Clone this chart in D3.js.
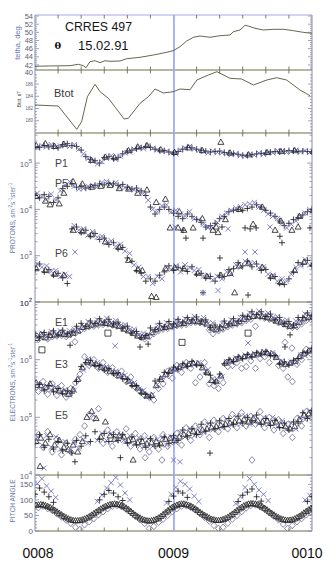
<!DOCTYPE html>
<html><head><meta charset="utf-8">
<script src="https://cdn.jsdelivr.net/npm/d3@7/dist/d3.min.js"></script>
<style>
html,body{margin:0;padding:0;background:#fff;}
svg{display:block;font-family:"Liberation Sans",Arial,sans-serif;}
</style></head><body>
<svg id="chart" width="335" height="572"></svg>
<script>
// ================= DATA =================
// time in minutes after 00:08 UT label
const timeLabels = ["0008", "0009", "0010"];
const timeLabelMinutes = [0, 60, 120];
const cursorMinute = 60.2;
const gridStep = 2; // symbol samples every 2 minutes, 0..120

// theta (deg)
const thetaT = [0,6.5,15.2,18.8,20.9,22.1,23.8,26,28.2,30.3,32.5,36.8,39.7,45.5,51.3,57.1,59.9,62.8,65.7,68.6,71.5,75.8,80.1,84.5,85.9,88.8,91,92.4,95.3,98.9,103.2,107.6,111.9,116.2,119.9];
const thetaV = [41.67,41.75,41.82,42.16,41.82,41.33,42.8,43.04,42.55,43.04,42.89,42.97,43.53,43.87,44.44,45.1,45.5,46.47,47.87,48.78,49.1,48.78,49.17,49.34,50.15,50.57,51.72,51.55,50.99,50.57,50.74,50.74,50.4,50.0,49.76];
const thetaTicks = [42, 44, 46, 48, 50, 52, 54];

// Btot (nT)
const btotT = [0,10.1,18.1,20.2,22.7,26,28.2,31.8,38.6,40.4,45.5,49.1,52,55.6,59.9,62.8,67.2,70.1,75.1,78.8,84.5,89.5,94.6,100.4,104.7,109,114.8,119.1];
const btotV = [182.58,182.41,178.6,179.85,183.93,185.96,184.75,183.67,180.29,180.4,182.85,183.93,185.19,184.54,184.75,185.19,185.08,186.66,187.48,188.02,186.94,186.83,185.85,186.66,187.04,186.66,185.03,184.1];
const btotTicks = [180, 182, 184, 186];

// Protons, log10 flux (cm-2 s-1 sr-1), one value per 2-minute sample
const p1Plus = [5.36,5.34,5.38,5.35,5.37,5.33,5.40,5.42,5.38,5.36,5.28,5.14,5.08,5.05,5.00,5.12,5.14,5.10,5.12,5.20,5.26,5.28,5.31,5.33,5.36,5.34,5.30,5.28,5.27,5.24,5.22,5.25,5.30,5.34,5.33,5.30,5.28,5.26,5.24,5.25,5.26,5.23,5.22,5.21,5.19,5.17,5.17,5.18,5.20,5.21,5.22,5.24,5.25,5.24,5.26,5.27,5.26,5.25,5.26,5.25,5.24];
const p1Cross = [5.33,5.38,5.35,5.40,5.34,5.37,5.38,5.36,5.40,5.30,5.20,5.10,5.04,4.98,5.03,5.10,5.16,5.08,5.15,5.22,5.24,5.30,5.34,5.31,5.38,5.32,5.29,5.25,5.26,5.22,5.20,5.28,5.33,5.36,5.30,5.27,5.25,5.22,5.26,5.23,5.22,5.20,5.18,5.20,5.16,5.15,5.19,5.17,5.22,5.19,5.23,5.22,5.27,5.26,5.23,5.25,5.28,5.24,5.27,5.23,5.26];
const p1Tri = [5.38,null,5.42,null,5.36,null,5.41,null,null,null,null,null,5.06,null,null,5.13,null,5.12,null,null,5.27,null,5.35,null,5.38,null,null,5.29,null,null,5.23,null,null,5.33,null,null,5.27,null,null,null,5.45,null,5.22,null,null,null,5.18,null,null,null,5.23,null,null,5.25,null,null,5.27,null,null,null,5.25];

const p5Plus = [4.30,4.25,4.32,4.28,4.15,4.25,4.45,4.50,4.55,4.48,4.50,4.46,4.48,4.52,4.55,4.53,4.56,4.55,4.52,4.54,4.48,4.44,4.46,4.40,4.30,4.05,3.90,4.00,4.05,4.00,3.92,3.85,3.80,3.90,3.85,3.78,3.72,3.62,3.65,3.70,3.80,3.85,3.95,3.98,4.00,3.98,4.02,4.05,4.10,4.05,3.98,3.92,3.85,3.75,3.65,3.70,3.78,3.82,3.88,3.95,4.00];
const p5Cross = [4.35,4.28,4.22,4.33,4.20,4.40,4.52,4.60,4.50,4.44,4.45,4.50,4.52,4.49,4.58,4.60,4.55,4.58,4.48,4.47,4.45,4.42,4.40,4.35,4.20,4.00,3.95,4.08,4.10,3.95,3.98,3.90,3.85,3.95,3.80,3.78,3.68,3.62,3.60,3.72,3.85,3.92,3.98,4.03,4.06,4.10,4.12,4.15,4.05,3.98,3.90,3.85,3.80,3.70,3.60,3.68,3.75,3.85,3.92,4.00,4.02];
const p5Tri = [4.28,null,4.18,4.10,null,4.12,4.35,null,4.60,null,4.55,null,4.48,null,4.50,null,4.52,null,4.45,null,4.44,null,4.35,null,4.42,null,4.15,null,4.22,3.60,null,3.95,3.55,null,3.60,null,3.80,null,null,3.62,null,3.78,null,null,4.00,null,null,3.68,null,4.05,null,null,null,3.75,null,null,null,3.85,null,null,3.98];
// scattered extra proton samples: [minute, log10 flux, symbol]
const protonExtra = [[60.7,3.62,"cross"],[62,3.6,"tri"],[64.1,3.55,"plus"],[65.4,3.38,"plus"],[72.8,3.38,"plus"],[75,3.6,"cross"],[77.1,3.55,"tri"],[79.3,3.5,"tri"],[81,3.62,"plus"],[83.6,3.58,"cross"],[91,3.6,"plus"],[93.2,3.58,"plus"],[95.8,3.6,"plus"],[101.8,3.62,"cross"],[104,3.55,"tri"],[106.1,3.42,"plus"],[107,3.28,"plus"],[111.3,3.55,"tri"],[114,3.62,"tri"],[119.1,3.6,"plus"],
  [72.8,2.2,"plus"],[72.8,2.2,"cross"],[79.3,2.25,"cross"],[92.3,2.15,"plus"],[91,3.08,"cross"],[95.3,3.08,"cross"],[80.1,2.95,"plus"],[17.3,3.08,"cross"]];

const p6Plus = [2.70,2.82,2.65,2.70,2.58,2.62,2.52,2.40,3.58,3.62,3.50,3.55,3.42,3.48,3.35,3.38,3.24,3.28,3.15,3.18,2.95,2.88,2.68,2.62,2.45,2.50,2.45,2.58,2.65,2.78,2.68,2.75,2.72,2.66,2.76,2.60,2.62,2.52,2.55,2.45,2.58,2.55,2.70,2.72,2.85,2.78,2.88,2.76,2.82,2.68,2.70,2.52,2.55,2.40,2.38,2.50,2.65,2.85,2.82,2.90,2.78];
const p6Cross = [2.82,2.75,2.78,2.66,2.68,2.55,2.60,2.55,3.65,3.55,3.58,3.45,3.52,3.40,3.42,3.28,3.32,3.20,3.25,3.10,3.05,2.80,2.75,2.55,2.55,2.40,2.55,2.50,2.75,2.70,2.78,2.65,2.80,2.74,2.68,2.70,2.56,2.58,2.48,2.55,2.50,2.65,2.60,2.80,2.75,2.88,2.82,2.85,2.74,2.76,2.60,2.58,2.45,2.50,2.45,2.60,2.75,2.78,2.92,2.80,2.85];
const p6Tri = [2.72,null,2.68,null,2.60,null,2.58,null,3.55,null,3.52,null,3.45,null,null,3.30,null,null,3.18,null,2.90,null,2.70,2.68,null,2.12,2.10,null,2.72,null,2.74,null,2.72,null,null,2.62,null,2.55,null,null,2.58,null,2.62,2.20,2.78,null,2.84,null,null,2.75,null,2.55,null,2.42,null,null,2.68,null,2.86,null,2.82];

// Electrons, log10 flux
const e1Plus = [6.45,6.38,6.47,6.44,6.50,6.43,6.51,6.45,6.48,6.58,6.63,6.58,6.67,6.63,6.71,6.65,6.70,6.62,6.65,6.55,6.58,6.46,6.49,6.38,6.42,6.55,6.52,6.63,6.57,6.66,6.62,6.70,6.65,6.73,6.69,6.74,6.67,6.69,6.56,6.60,6.57,6.67,6.62,6.71,6.67,6.77,6.75,6.83,6.78,6.83,6.75,6.79,6.69,6.73,6.63,6.66,6.60,6.73,6.73,6.81,6.77];
const e1Cross = [6.40,6.46,6.40,6.49,6.44,6.50,6.45,6.50,6.53,6.52,6.57,6.66,6.61,6.69,6.65,6.72,6.64,6.68,6.59,6.61,6.52,6.53,6.43,6.46,6.40,6.49,6.59,6.57,6.64,6.60,6.68,6.64,6.71,6.67,6.75,6.68,6.73,6.63,6.64,6.54,6.63,6.61,6.69,6.65,6.73,6.71,6.81,6.77,6.84,6.77,6.81,6.73,6.75,6.67,6.69,6.60,6.67,6.67,6.79,6.75,6.83];
const e1Tri = [6.37,6.44,6.38,6.42,6.43,6.45,6.44,6.43,6.46,6.50,6.56,6.58,6.60,6.62,6.64,6.63,6.62,6.60,6.58,6.53,6.50,6.46,6.41,6.39,6.41,6.47,6.52,6.55,6.56,6.58,6.60,6.62,6.63,6.66,6.67,6.66,6.65,6.62,6.55,6.52,6.55,6.59,6.62,6.63,6.66,6.70,6.73,6.75,6.76,6.75,6.73,6.71,6.67,6.65,6.61,6.58,6.59,6.65,6.71,6.73,6.75];
const e1Dia = [6.35,6.40,6.36,6.40,6.41,6.42,6.40,6.44,6.46,6.50,6.54,6.57,6.58,6.60,6.61,6.62,6.60,6.58,6.56,6.52,6.48,6.44,6.40,6.36,6.40,6.45,6.50,6.53,6.54,6.57,6.59,6.60,6.61,6.64,6.65,6.64,6.62,6.52,6.52,6.50,6.53,6.57,6.60,6.62,6.64,6.68,6.70,6.58,6.74,6.72,6.70,6.68,6.64,6.62,6.58,6.56,6.57,6.62,6.68,6.70,6.72];

const e3Plus = [5.52,5.57,5.46,5.55,5.44,5.50,5.41,5.46,5.42,5.62,5.88,5.95,5.99,5.90,5.90,5.82,5.85,5.76,5.77,5.67,5.66,5.55,5.55,5.42,5.40,5.35,5.63,5.66,5.78,5.77,5.87,5.84,5.93,5.89,5.97,5.91,5.90,5.77,5.73,5.61,5.75,5.93,6.00,5.97,6.05,6.02,6.09,6.05,6.12,6.10,6.14,6.07,6.07,5.93,5.96,5.91,5.99,6.02,6.12,6.13,6.20];
const e3Cross = [5.58,5.49,5.53,5.48,5.52,5.44,5.48,5.39,5.47,5.68,5.82,6.01,5.92,5.95,5.86,5.88,5.79,5.80,5.71,5.73,5.61,5.60,5.49,5.47,5.36,5.40,5.57,5.70,5.71,5.83,5.81,5.90,5.87,5.95,5.91,5.95,5.85,5.83,5.67,5.66,5.70,5.97,5.96,6.03,6.01,6.08,6.05,6.11,6.08,6.14,6.10,6.12,6.03,5.98,5.91,5.96,5.95,6.08,6.07,6.18,6.16];
const e3Tri = [5.60,5.55,5.52,5.58,5.49,5.46,5.44,5.40,5.48,5.66,5.86,5.96,5.94,5.92,5.87,5.84,5.80,5.77,5.73,5.70,5.63,5.57,5.51,5.44,5.37,5.38,5.55,5.66,5.74,5.80,5.84,5.87,5.90,5.92,5.94,5.93,5.86,5.78,5.64,5.62,5.72,5.94,5.98,6.00,6.03,6.05,6.07,6.08,6.10,6.12,6.12,6.10,6.04,5.95,5.92,5.94,5.97,6.05,6.10,6.15,6.18];
const e3Dia = [5.45,5.62,5.40,5.58,5.38,5.55,5.35,5.50,5.60,5.75,6.05,5.90,6.00,5.85,5.95,5.78,5.86,5.72,5.80,5.62,5.70,5.52,5.45,5.38,5.35,5.30,5.50,5.58,5.80,5.68,5.90,5.78,5.95,5.85,5.60,5.70,5.95,5.58,5.55,5.50,5.60,5.88,5.90,5.95,5.85,5.88,5.98,5.85,6.02,6.05,5.95,6.08,5.90,5.85,5.70,5.62,5.92,6.00,6.18,6.10,6.22];

const e5Plus = [4.55,4.70,4.48,4.62,4.45,4.58,4.42,4.55,4.38,4.60,4.50,4.68,4.58,4.75,4.62,4.72,4.58,4.70,4.60,4.70,4.55,4.66,4.52,4.62,4.48,4.63,4.50,4.52,4.66,4.55,4.68,4.60,4.78,4.66,4.80,4.70,4.88,4.76,4.90,4.80,4.94,4.84,4.98,4.88,5.02,4.90,5.00,4.92,5.04,4.88,4.98,4.86,4.95,4.82,4.90,4.78,4.92,4.90,5.08,4.98,5.12];
const e5Cross = [4.65,4.52,4.68,4.48,4.66,4.45,4.58,4.42,4.56,4.46,4.62,4.55,5.05,4.60,4.72,4.60,4.72,4.60,4.70,4.58,4.68,4.54,4.65,4.50,4.62,4.50,4.62,4.64,4.52,4.66,4.56,4.74,4.66,4.80,4.68,4.82,4.74,4.88,4.78,4.92,4.82,4.96,4.86,5.00,4.88,5.02,4.88,5.00,4.90,5.00,4.88,5.00,4.84,4.94,4.80,4.90,4.80,5.00,4.96,5.12,5.02];
const e5Tri = [4.58,4.64,4.55,4.70,4.52,4.60,4.48,4.44,4.52,4.40,4.58,5.00,5.10,4.98,4.66,4.92,4.68,4.62,4.68,4.66,4.60,4.62,4.56,4.58,4.54,4.56,4.58,4.54,4.62,4.64,4.60,4.66,4.70,4.72,4.76,4.74,4.78,4.80,4.82,4.84,4.86,4.88,4.90,4.92,4.94,4.96,4.92,4.98,4.94,4.92,4.94,4.90,4.92,4.86,4.84,4.80,4.84,4.96,5.04,5.06,5.10];
const e5Dia = [4.70,4.48,4.75,4.40,4.62,4.35,4.55,4.40,4.62,4.70,4.85,5.05,4.98,5.15,4.55,4.78,4.50,4.75,4.62,4.80,4.50,4.72,4.45,4.68,4.40,4.65,4.45,4.70,4.50,4.58,4.72,4.52,4.82,4.60,4.85,4.70,4.92,4.65,4.95,4.75,4.98,4.80,5.05,4.82,5.08,4.85,5.02,4.88,5.10,4.82,5.00,4.78,4.96,4.72,4.88,4.65,4.98,4.85,5.10,5.00,5.18];
// scattered extra electron samples: [minute, log10 flux, symbol]
const electronExtra = [[3,6.17,"sq"],[31.6,6.46,"sq"],[63.7,6.3,"sq"],[92.3,6.46,"sq"],[77.1,6.45,"dia"],[34.7,6.24,"cross"],[45.5,6.22,"plus"],[49,6.27,"plus"],[15.2,6.25,"plus"],[17.3,6.31,"dia"],[92.3,6.29,"cross"],[110.5,6.43,"plus"],[108.3,6.3,"dia"],[111.3,6.2,"dia"],[108.3,6.22,"plus"],
  [17.3,4.23,"plus"],[62.8,4.23,"cross"],[94,4.26,"dia"],[2.2,4.15,"tri"],[3.9,4.12,"cross"],[42.5,4.26,"tri"],[55,4.26,"dia"],[47.7,4.3,"dia"],[75.8,4.38,"plus"],[60,4.26,"cross"],[37,4.3,"plus"]];

// Pitch angle (deg)
const pitchTriA = [83,85,82,76,67,57,47,39,34,33,36,42,51,61,71,79,85,87,85,79,69,57,46,38,33,33,38,47,59,71,80,86,87,83,76,66,55,46,38,34,35,40,49,60,71,81,87,88,85,78,68,57,47,39,35,35,39,47,58,68,78];
const pitchTriB = [84,84,79,72,62,52,43,36,33,34,39,46,56,66,75,82,86,86,82,74,63,51,42,35,32,35,42,53,65,76,83,87,85,80,71,60,50,42,36,34,37,44,54,66,76,84,88,87,82,73,62,52,43,37,34,36,43,52,63,73,82];
const pitchCross = [152,168,145,128,108,null,null,null,null,null,null,null,null,95,115,138,155,172,148,122,100,null,null,null,null,null,null,null,90,118,140,160,150,135,112,95,null,null,null,null,null,null,null,88,110,140,168,150,132,118,98,null,null,null,null,null,null,null,100,115,128];
const pitchPlus = [118,138,125,110,92,null,null,null,null,null,null,null,null,null,100,118,130,122,110,98,null,null,null,null,null,null,null,null,null,95,112,128,122,108,null,null,null,null,null,null,null,null,null,null,95,115,125,135,110,96,null,null,null,null,null,null,null,null,null,95,110];
const pitchDia = [75,80,72,66,55,45,35,25,12,5,20,30,40,52,62,72,80,82,78,70,60,48,36,24,8,15,28,38,50,62,72,80,82,76,68,56,44,32,18,8,12,25,38,50,62,74,82,84,78,70,60,48,36,22,8,18,30,40,52,62,72];
const pitchTicks = [0, 50, 100, 150];

// ================= DRAWING =================
const svg = d3.select("#chart");
svg.append("rect").attr("width", 335).attr("height", 572).attr("fill", "#fff");
const X0 = 35, X1 = 312;
const x = d3.scaleLinear().domain([0, 120]).range([X0, X1]);
const grid = d3.range(0, 121, gridStep);

const P = {
  theta: {y0: 15, y1: 70},
  btot: {y0: 70, y1: 133},
  prot: {y0: 133, y1: 302},
  elec: {y0: 302, y1: 475},
  pitch: {y0: 475, y1: 531}
};
const yTheta = d3.scaleLinear().domain([40.76, 54.25]).range([P.theta.y1, P.theta.y0]);
const yBtot = d3.scaleLinear().domain([178, 188.3]).range([P.btot.y1, P.btot.y0]);
const yProt = d3.scaleLog().domain([1e2, Math.pow(10, 5.65)]).range([P.prot.y1, P.prot.y0]);
const yElec = d3.scaleLog().domain([1e4, 1e7]).range([P.elec.y1, P.elec.y0]);
const yPitch = d3.scaleLinear().domain([0, 180]).range([P.pitch.y1, P.pitch.y0]);

const defs = svg.append("defs");
Object.entries(P).forEach(([k, p]) => {
  defs.append("clipPath").attr("id", "clip-" + k).append("rect")
    .attr("x", X0).attr("y", p.y0).attr("width", X1 - X0).attr("height", p.y1 - p.y0);
});

const axisCol = "#8a8aa6", frameCol = "#6c6c4c", tickLabCol = "#60607a";

// horizontal panel borders and time ticks
const hLines = [15, 70, 133, 302, 475, 531];
hLines.forEach((y, i) => {
  svg.append("line").attr("x1", X0).attr("x2", X1).attr("y1", y).attr("y2", y)
    .attr("stroke", i === 0 ? "#a6a6ea" : frameCol).attr("stroke-width", 1);
});
const minuteTicks = d3.range(10, 120, 10);
Object.values(P).forEach(p => {
  svg.append("g").selectAll("line").data(minuteTicks).join("line")
    .attr("x1", d => x(d)).attr("x2", d => x(d)).attr("y1", p.y0).attr("y2", p.y0 + 3.5)
    .attr("stroke", frameCol).attr("stroke-width", 0.9);
  svg.append("g").selectAll("line").data(minuteTicks).join("line")
    .attr("x1", d => x(d)).attr("x2", d => x(d)).attr("y1", p.y1).attr("y2", p.y1 - 3.5)
    .attr("stroke", frameCol).attr("stroke-width", 0.9);
});

// left/right axes lines
[X0, X1].forEach(xx => svg.append("line").attr("x1", xx).attr("x2", xx).attr("y1", 15).attr("y2", 531)
  .attr("stroke", axisCol).attr("stroke-width", 1));

function yTicks(scale, majors, minors, majLen, minLen) {
  const g = svg.append("g").attr("stroke", axisCol).attr("stroke-width", 0.8);
  [[majors, majLen], [minors, minLen]].forEach(([vals, len]) => {
    g.selectAll(null).data(vals).join("line")
      .attr("x1", X0).attr("x2", X0 + len).attr("y1", d => scale(d)).attr("y2", d => scale(d));
    g.selectAll(null).data(vals).join("line")
      .attr("x1", X1).attr("x2", X1 - len).attr("y1", d => scale(d)).attr("y2", d => scale(d));
  });
}
function linLabels(scale, vals, size, fmt) {
  svg.append("g").selectAll("text").data(vals).join("text")
    .attr("x", X0 - 2).attr("y", d => scale(d)).attr("dy", "0.35em")
    .attr("text-anchor", "end").attr("font-size", size).attr("fill", tickLabCol)
    .text(fmt || (d => d));
}
function logLabels(scale, exps) {
  exps.forEach(e => {
    const t = svg.append("text").attr("x", X0 - 3).attr("y", scale(Math.pow(10, e))).attr("dy", "0.45em")
      .attr("text-anchor", "end").attr("font-size", 8).attr("fill", tickLabCol);
    t.append("tspan").text("10");
    t.append("tspan").attr("dy", -4).attr("font-size", 6).text(e);
  });
}
function logMinors(scale, e0, e1) {
  const out = [];
  for (let e = e0; e < e1; e++) for (let m = 2; m <= 9; m++) {
    const v = m * Math.pow(10, e);
    const d = scale.domain();
    if (v > d[0] && v < d[1]) out.push(v);
  }
  return out;
}

// theta axis
yTicks(yTheta, thetaTicks, d3.range(41, 54.25, 0.5).filter(v => v % 2 !== 0), 4, 2);
linLabels(yTheta, thetaTicks, 7.5);
svg.append("text").attr("x", X0 - 2).attr("y", P.theta.y1 + 2.8).attr("dy", "0.35em").attr("text-anchor", "end")
  .attr("font-size", 7.5).attr("fill", tickLabCol).text("40");
// btot axis
yTicks(yBtot, btotTicks, d3.range(178.5, 188.3, 0.5).filter(v => v % 2 !== 0), 4, 2);
linLabels(yBtot, btotTicks, 4.5);
// protons axis
yTicks(yProt, [1e2, 1e3, 1e4, 1e5], logMinors(yProt, 2, 6), 5, 2.5);
logLabels(yProt, [2, 3, 4, 5]);
// electrons axis
yTicks(yElec, [1e4, 1e5, 1e6, 1e7], logMinors(yElec, 4, 7), 5, 2.5);
logLabels(yElec, [4, 5, 6, 7]);
// pitch axis
yTicks(yPitch, pitchTicks, d3.range(10, 180, 10).filter(v => v % 50 !== 0), 4, 2);
linLabels(yPitch, pitchTicks, 8);

// time labels
svg.append("g").selectAll("text").data(timeLabels).join("text")
  .attr("x", (d, i) => Math.max(38, Math.min(307, x(timeLabelMinutes[i]))))
  .attr("y", 558).attr("text-anchor", "middle").attr("font-size", 14).attr("fill", "#111")
  .text(d => d);

// cursor line
svg.append("line").attr("x1", x(cursorMinute)).attr("x2", x(cursorMinute)).attr("y1", 15).attr("y2", 531)
  .attr("stroke", "#a3acf6").attr("stroke-width", 1.8);

// curves
const lineCol = "#55553c";
svg.append("path").attr("clip-path", "url(#clip-theta)")
  .attr("d", d3.line().x((d, i) => x(thetaT[i])).y(d => yTheta(d))(thetaV))
  .attr("fill", "none").attr("stroke", lineCol).attr("stroke-width", 0.9);
svg.append("path").attr("clip-path", "url(#clip-btot)")
  .attr("d", d3.line().x((d, i) => x(btotT[i])).y(d => yBtot(d))(btotV))
  .attr("fill", "none").attr("stroke", lineCol).attr("stroke-width", 0.9);

// symbols
const sym = {
  plus: "M-3,0H3M0,-3V3",
  cross: "M-2.6,-2.6L2.6,2.6M-2.6,2.6L2.6,-2.6",
  tri: "M0,-3.2L3,2.1H-3Z",
  dia: "M0,-3.3L3,0L0,3.3L-3,0Z",
  sq: "M-3,-3H3V3H-3Z"
};
const symColor = {plus: "#1c1c1c", cross: "#6a6abf", tri: "#262626", dia: "#74749c", sq: "#2a2a2a"};
const symOffset = {plus: 0, cross: 1, tri: 0.5, dia: 1.5, sq: 0};

function drawSamples(panel, yScale, isLog, data) {
  const g = svg.append("g").attr("clip-path", "url(#clip-" + panel + ")");
  g.selectAll("path").data(data.filter(d => d.v != null)).join("path")
    .attr("d", d => sym[d.k])
    .attr("transform", d => `translate(${x(d.t)},${yScale(isLog ? Math.pow(10, d.v) : d.v)})`)
    .attr("fill", "none").attr("stroke", d => symColor[d.k]).attr("stroke-width", 0.85);
}
function gridSeries(vals, k, off) {
  const o = off == null ? symOffset[k] : off;
  return vals.map((v, i) => ({t: grid[i] + o, v, k}));
}
function extraSeries(arr) { return arr.map(d => ({t: d[0], v: d[1], k: d[2]})); }

drawSamples("prot", yProt, true, [].concat(
  gridSeries(p1Plus, "plus"), gridSeries(p1Cross, "cross"), gridSeries(p1Tri, "tri"),
  gridSeries(p5Plus, "plus"), gridSeries(p5Cross, "cross"), gridSeries(p5Tri, "tri"),
  gridSeries(p6Plus, "plus"), gridSeries(p6Cross, "cross"), gridSeries(p6Tri, "tri"),
  extraSeries(protonExtra)));
drawSamples("elec", yElec, true, [].concat(
  gridSeries(e1Dia, "dia"), gridSeries(e1Tri, "tri"), gridSeries(e1Cross, "cross"), gridSeries(e1Plus, "plus"),
  gridSeries(e3Dia, "dia"), gridSeries(e3Tri, "tri"), gridSeries(e3Cross, "cross"), gridSeries(e3Plus, "plus"),
  gridSeries(e5Dia, "dia"), gridSeries(e5Tri, "tri"), gridSeries(e5Cross, "cross"), gridSeries(e5Plus, "plus"),
  extraSeries(electronExtra)));
drawSamples("pitch", yPitch, false, [].concat(
  gridSeries(pitchDia, "dia"), gridSeries(pitchCross, "cross"), gridSeries(pitchPlus, "plus"),
  gridSeries(pitchTriA, "tri", 0.5), gridSeries(pitchTriB, "tri", 1.5)));

// annotations
svg.append("text").attr("x", 65).attr("y", 31).attr("font-size", 13.5).attr("fill", "#151515")
  .attr("textLength", 67).attr("lengthAdjust", "spacingAndGlyphs").text("CRRES 497");
svg.append("text").attr("x", 54.5).attr("y", 49).attr("font-size", 10).attr("font-weight", "bold")
  .attr("font-family", "'DejaVu Serif','Liberation Serif',serif").attr("fill", "#151515").text("θ");
svg.append("text").attr("x", 78).attr("y", 50).attr("font-size", 13).attr("fill", "#151515").text("15.02.91");
svg.append("text").attr("x", 54).attr("y", 97).attr("font-size", 11).attr("fill", "#3a3a3a").text("Btot");
const chanLabels = [["P1", 167], ["P5", 187], ["P6", 257], ["E1", 326], ["E3", 368], ["E5", 419]];
svg.append("g").selectAll("text").data(chanLabels).join("text")
  .attr("x", 55).attr("y", d => d[1]).attr("font-size", 10.5).attr("fill", "#444").text(d => d[0]);

// rotated y titles
function yTitle(xc, yc, parts, size, color) {
  const t = svg.append("text").attr("transform", `translate(${xc},${yc}) rotate(-90)`)
    .attr("text-anchor", "middle").attr("font-size", size).attr("fill", color);
  let up = false;
  parts.forEach(p => {
    const sp = t.append("tspan").text(p[0]);
    const sup = !!p[1];
    if (sup && !up) sp.attr("dy", -size * 0.4);
    if (!sup && up) sp.attr("dy", size * 0.4);
    if (sup) sp.attr("font-size", size * 0.7);
    up = sup;
  });
}
yTitle(20, 42, [["tetha, deg."]], 7.5, "#6a78b0");
yTitle(21, 99, [["Btot, nT"]], 4.5, "#444");
yTitle(15, 218, [["PROTONS, sm"], ["-2", 1], ["s"], ["-1", 1], ["ster"], ["-1", 1]], 6.5, "#6a78a8");
yTitle(15, 382, [["ELECTRONS, sm"], ["-2", 1], ["s"], ["-1", 1], ["ster"], ["-1", 1]], 6.5, "#6a78a8");
yTitle(15, 501, [["PITCH ANGLE"]], 6.5, "#6a78a8");
</script>
</body></html>
